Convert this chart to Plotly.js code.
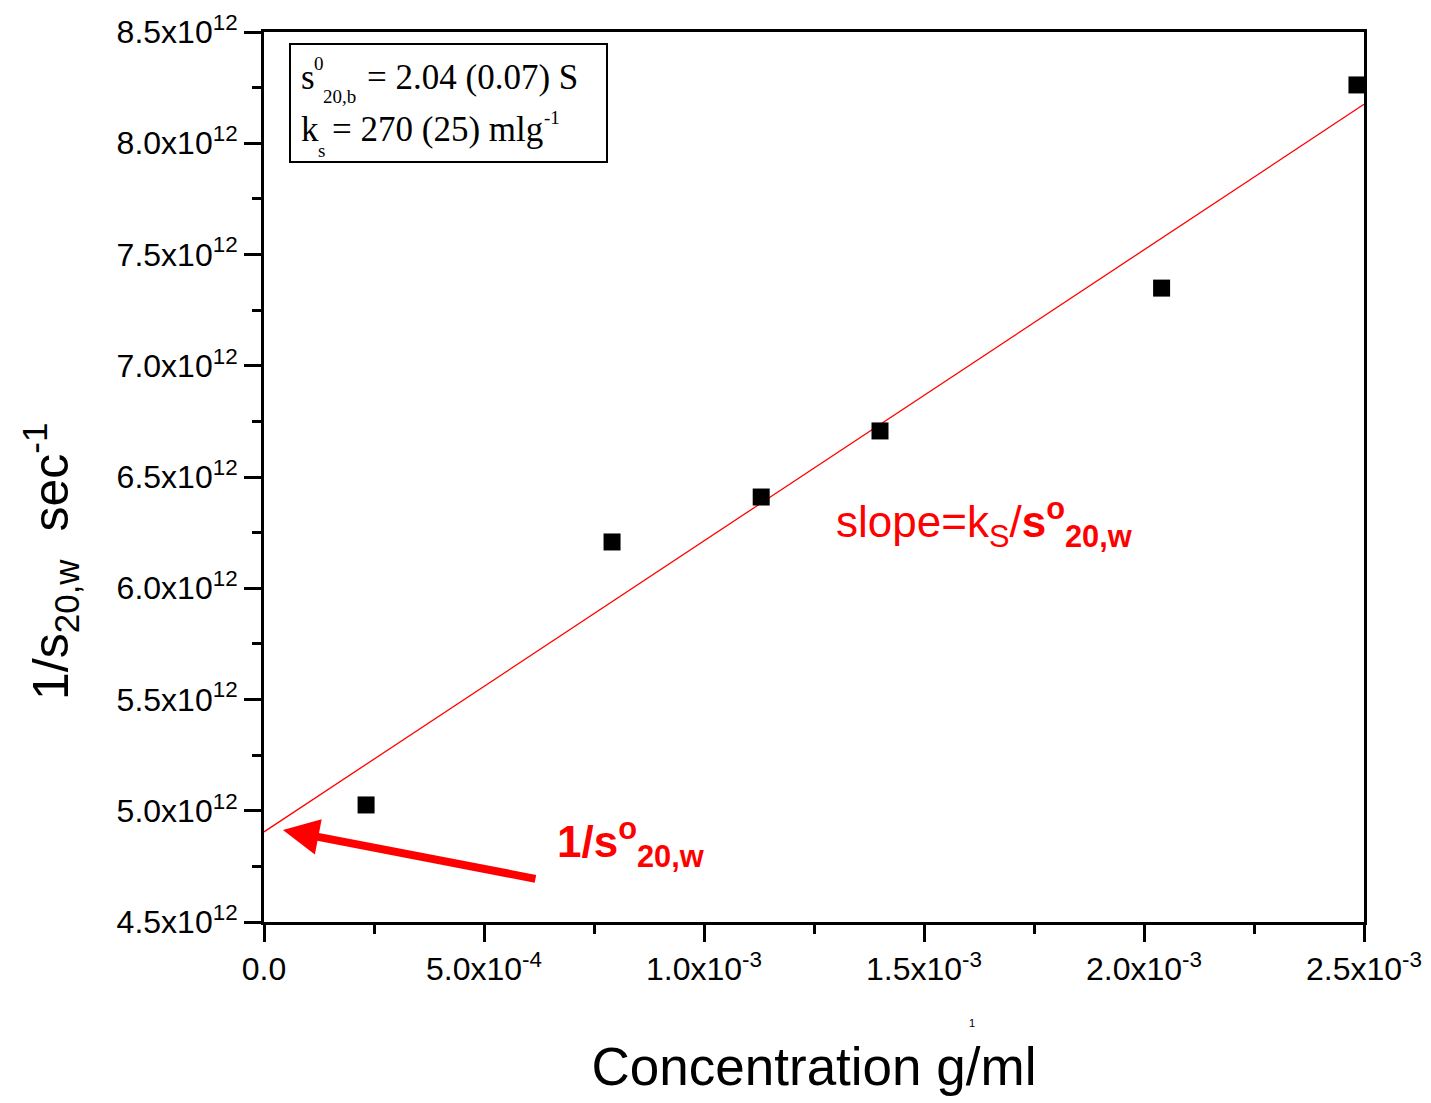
<!DOCTYPE html>
<html><head><meta charset="utf-8">
<script src="https://cdn.plot.ly/plotly-3.0.1.min.js"></script>
<style>html,body{margin:0;padding:0;background:#fff}</style>
</head><body>
<div id="chart" style="width:1431px;height:1103px"></div>
<script>
// Data
const concentration = [0.000232, 0.000791, 0.00113, 0.00140, 0.00204, 0.002484];
const invS = [5.026e12, 6.208e12, 6.410e12, 6.707e12, 7.349e12, 8.262e12];
const fitX = [0, 0.0025];
const fitY = [4.905e12, 8.175e12];
const xTickVals = [0, 0.0005, 0.001, 0.0015, 0.002, 0.0025];
const xTickText = ['0.0', '5.0x10<sup>-4</sup>', '1.0x10<sup>-3</sup>', '1.5x10<sup>-3</sup>', '2.0x10<sup>-3</sup>', '2.5x10<sup>-3</sup>'];
const yTickVals = [4.5e12, 5.0e12, 5.5e12, 6.0e12, 6.5e12, 7.0e12, 7.5e12, 8.0e12, 8.5e12];
const yTickText = ['4.5x10<sup>12</sup>', '5.0x10<sup>12</sup>', '5.5x10<sup>12</sup>', '6.0x10<sup>12</sup>', '6.5x10<sup>12</sup>', '7.0x10<sup>12</sup>', '7.5x10<sup>12</sup>', '8.0x10<sup>12</sup>', '8.5x10<sup>12</sup>'];

// pixel -> paper helpers (layout only)
const L = 264, R = 1364, T = 32, B = 922;
const px = x => (x - L) / (R - L);
const py = y => (B - y) / (B - T);

const SANS = 'Liberation Sans, Arial, sans-serif';
const SERIF = 'Liberation Serif, Times New Roman, serif';

const traces = [
  {x: fitX, y: fitY, mode: 'lines', line: {color: '#ff0000', width: 1.3}, hoverinfo: 'skip'},
  {x: concentration, y: invS, mode: 'markers', marker: {symbol: 'square', size: 17, color: '#000'}}
];

function ann(text, x, y, size, opts) {
  return Object.assign({text: text, xref: 'paper', yref: 'paper', x: px(x), y: py(y),
    xanchor: 'left', yanchor: 'middle', showarrow: false,
    font: {family: SERIF, size: size, color: '#000'}}, opts || {});
}

const annotations = [
  // textbox
  ann('s', 299, 78, 35),
  ann('0', 312, 64, 19),
  ann('20,b', 321, 97, 19),
  ann('= 2.04 (0.07) S', 365, 78, 35),
  ann('k', 299, 130, 35),
  ann('s', 316, 150, 19),
  ann('= 270 (25) mlg', 330, 130, 35),
  ann('-1', 542, 117, 19),
  // red labels
  ann('slope=k<sub>S</sub>/<b>s<sup>o</sup><sub>20,w</sub></b>', 834, 522, 44, {font: {family: SANS, size: 44, color: '#ff0000'}}),
  ann('<b>1/s<sup>o</sup><sub>20,w</sub></b>', 555, 842, 44, {font: {family: SANS, size: 44, color: '#ff0000'}}),
  // arrow
  {x: 0.000043, y: 4.913e12, xref: 'x', yref: 'y', ax: 254, ay: 49, axref: 'pixel', ayref: 'pixel',
   text: '', showarrow: true, arrowhead: 2, arrowsize: 0.9, arrowwidth: 8, arrowcolor: '#ff0000', standoff: 0},
  // y title
  {text: '1/s<sub>20,w</sub>  sec<sup>-1</sup>', xref: 'paper', yref: 'paper', x: px(50), y: py(562),
   xanchor: 'center', yanchor: 'middle', showarrow: false, textangle: -90,
   font: {family: SANS, size: 50, color: '#000'}},
  // stray tiny label
  {text: '1', xref: 'paper', yref: 'paper', x: px(972), y: py(1023), xanchor: 'center', yanchor: 'middle',
   showarrow: false, font: {family: SANS, size: 11, color: '#000'}}
];

const axisCommon = {
  showline: true, linewidth: 3, linecolor: '#000', mirror: true,
  ticks: 'outside', ticklen: 17, tickwidth: 3, tickcolor: '#000',
  showgrid: false, zeroline: false, tickmode: 'array',
  tickfont: {family: SANS, size: 32, color: '#000'}
};

const layout = {
  width: 1431, height: 1103,
  margin: {l: L, r: 1431 - R, t: T, b: 1103 - B},
  paper_bgcolor: '#fff', plot_bgcolor: '#fff', showlegend: false,
  xaxis: Object.assign({}, axisCommon, {
    range: [0, 0.0025], tickvals: xTickVals, ticktext: xTickText,
    minor: {ticks: 'outside', ticklen: 9, tickwidth: 3, tickcolor: '#000', tick0: 0, dtick: 0.00025, showgrid: false},
    title: {text: 'Concentration g/ml', font: {family: SANS, size: 53, color: '#000'}, standoff: 62}
  }),
  yaxis: Object.assign({}, axisCommon, {
    range: [4.5e12, 8.5e12], tickvals: yTickVals, ticktext: yTickText,
    minor: {ticks: 'outside', ticklen: 9, tickwidth: 3, tickcolor: '#000', tick0: 4.5e12, dtick: 0.25e12, showgrid: false}
  }),
  shapes: [
    {type: 'rect', xref: 'paper', yref: 'paper', x0: px(290), x1: px(607), y0: py(162), y1: py(44),
     line: {color: '#000', width: 2}, fillcolor: 'rgba(0,0,0,0)'}
  ],
  annotations: annotations
};

Plotly.newPlot('chart', traces, layout, {displayModeBar: false, staticPlot: true});
</script>
</body></html>
